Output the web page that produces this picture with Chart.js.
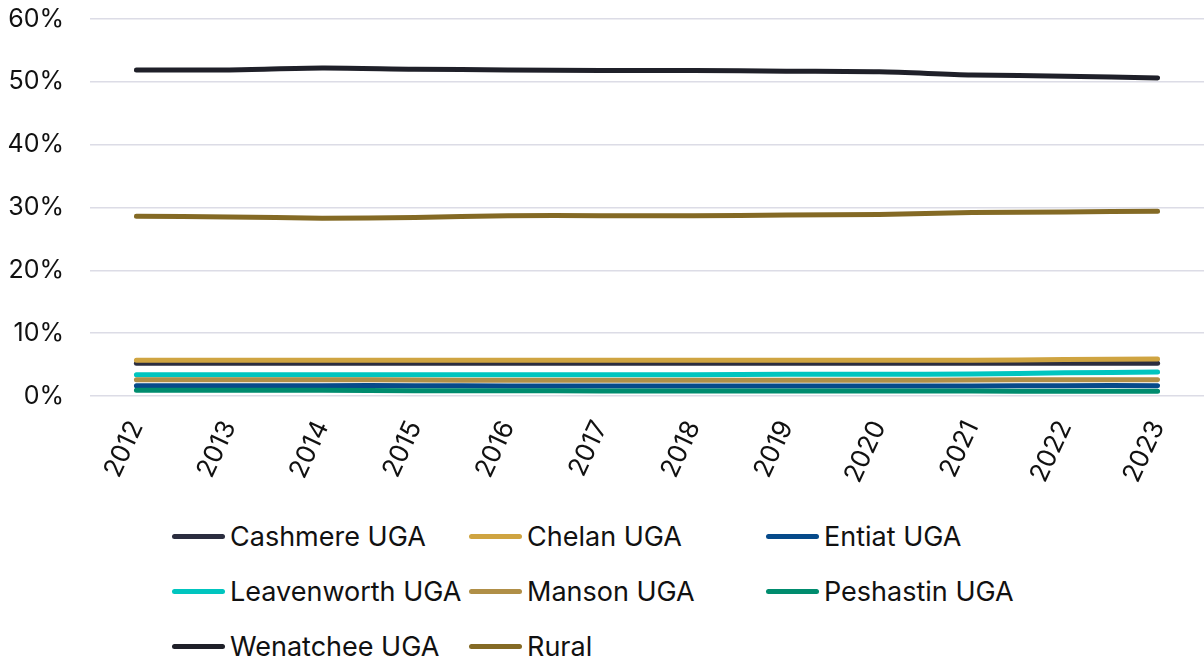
<!DOCTYPE html>
<html>
<head>
<meta charset="utf-8">
<script src="https://cdn.jsdelivr.net/npm/chart.js@4.4.1/dist/chart.umd.min.js"></script>
<style>
  html, body { margin: 0; padding: 0; background: #ffffff; }
  #wrap { position: relative; width: 1204px; height: 659px; overflow: hidden; }
  #chartBox { position: absolute; left: 0; top: 0; width: 1204px; height: 500px; }
  #legend {
    position: absolute; left: 172px; top: 512px;
    display: grid; grid-template-columns: 297px 297px 297px; grid-auto-rows: 55px;
    font-family: Inter, "Noto Sans", sans-serif; font-size: 27px; color: #111111;
  }
  .item { display: flex; align-items: center; height: 48px; white-space: nowrap; }
  .swatch { width: 53px; height: 5px; border-radius: 3px; margin-right: 5px; flex: none; }
</style>
</head>
<body>
<div id="wrap">
  <div id="chartBox"><canvas id="c"></canvas></div>
  <div id="legend"></div>
</div>
<script>
// Share of population by area, 2012-2023 (percent)
const years = ['2012','2013','2014','2015','2016','2017','2018','2019','2020','2021','2022','2023'];

const cashmere    = [5.2, 5.2, 5.2, 5.2, 5.2, 5.2, 5.2, 5.2, 5.2, 5.2, 5.2, 5.2];
const chelan      = [5.7, 5.7, 5.7, 5.7, 5.7, 5.7, 5.7, 5.7, 5.7, 5.7, 5.8, 5.9];
const entiat      = [1.65, 1.65, 1.65, 1.65, 1.6, 1.6, 1.6, 1.6, 1.6, 1.6, 1.65, 1.65];
const leavenworth = [3.4, 3.4, 3.4, 3.4, 3.4, 3.4, 3.4, 3.45, 3.45, 3.5, 3.7, 3.8];
const manson      = [2.6, 2.6, 2.6, 2.55, 2.5, 2.5, 2.5, 2.5, 2.5, 2.55, 2.6, 2.6];
const peshastin   = [0.9, 0.9, 0.9, 0.85, 0.85, 0.8, 0.8, 0.8, 0.8, 0.8, 0.75, 0.75];
const wenatchee   = [51.9, 51.9, 52.2, 52.0, 51.9, 51.8, 51.8, 51.7, 51.6, 51.1, 50.9, 50.6];
const rural       = [28.6, 28.5, 28.3, 28.4, 28.7, 28.7, 28.7, 28.8, 28.9, 29.2, 29.3, 29.4];

const yTicks = [0, 10, 20, 30, 40, 50, 60];

const seriesNames  = ['Cashmere UGA','Chelan UGA','Entiat UGA','Leavenworth UGA','Manson UGA','Peshastin UGA','Wenatchee UGA','Rural'];
const seriesValues = [cashmere, chelan, entiat, leavenworth, manson, peshastin, wenatchee, rural];
const seriesColors = ['#2b2d3f','#cfa441','#064a8a','#00c5bf','#b08f47','#008c6e','#1f2029','#846a25'];

const FONT = 'Inter, "Noto Sans", sans-serif';

// Later series are painted over earlier ones
const datasets = seriesNames.map((name, i) => ({
  label: name,
  data: seriesValues[i],
  order: seriesNames.length - i,
  borderColor: seriesColors[i],
  backgroundColor: seriesColors[i],
  borderWidth: 5,
  borderCapStyle: 'round',
  borderJoinStyle: 'round',
  pointRadius: 0,
  pointHoverRadius: 0,
  tension: 0.3,
  fill: false
}));

// Legend laid out as a fixed three-column grid under the chart
const gridLegend = {
  id: 'gridLegend',
  afterUpdate(chart) {
    const box = document.getElementById('legend');
    box.innerHTML = '';
    chart.data.datasets.forEach(ds => {
      const item = document.createElement('div');
      item.className = 'item';
      const sw = document.createElement('span');
      sw.className = 'swatch';
      sw.style.background = ds.borderColor;
      const tx = document.createElement('span');
      tx.textContent = ds.label;
      item.appendChild(sw);
      item.appendChild(tx);
      box.appendChild(item);
    });
  }
};

new Chart(document.getElementById('c'), {
  type: 'line',
  data: { labels: years, datasets },
  plugins: [gridLegend],
  options: {
    responsive: true,
    maintainAspectRatio: false,
    animation: false,
    layout: { padding: { left: 4, top: 19, right: 0, bottom: 0 } },
    plugins: {
      legend: { display: false },
      tooltip: { enabled: false }
    },
    scales: {
      x: {
        offset: true,
        grid: { display: false, drawTicks: false },
        border: { display: false },
        ticks: {
          color: '#111111',
          font: { family: FONT, size: 26 },
          maxRotation: 65,
          minRotation: 65,
          padding: 20
        },
        afterFit(axis) {
          axis.paddingLeft = 0;
          axis.paddingRight = 0;
          axis.height = 104;
        }
      },
      y: {
        min: 0,
        max: 60,
        afterBuildTicks(axis) { axis.ticks = yTicks.map(v => ({ value: v })); },
        grid: { color: '#dcdce6', lineWidth: 1.5, drawTicks: false },
        border: { display: false },
        ticks: {
          color: '#111111',
          font: { family: FONT, size: 25 },
          padding: 26,
          callback: v => v + '%'
        },
        afterFit(axis) {
          axis.paddingTop = 0;
          axis.paddingBottom = 0;
          axis.width = 86;
        }
      }
    }
  }
});
</script>
</body>
</html>
